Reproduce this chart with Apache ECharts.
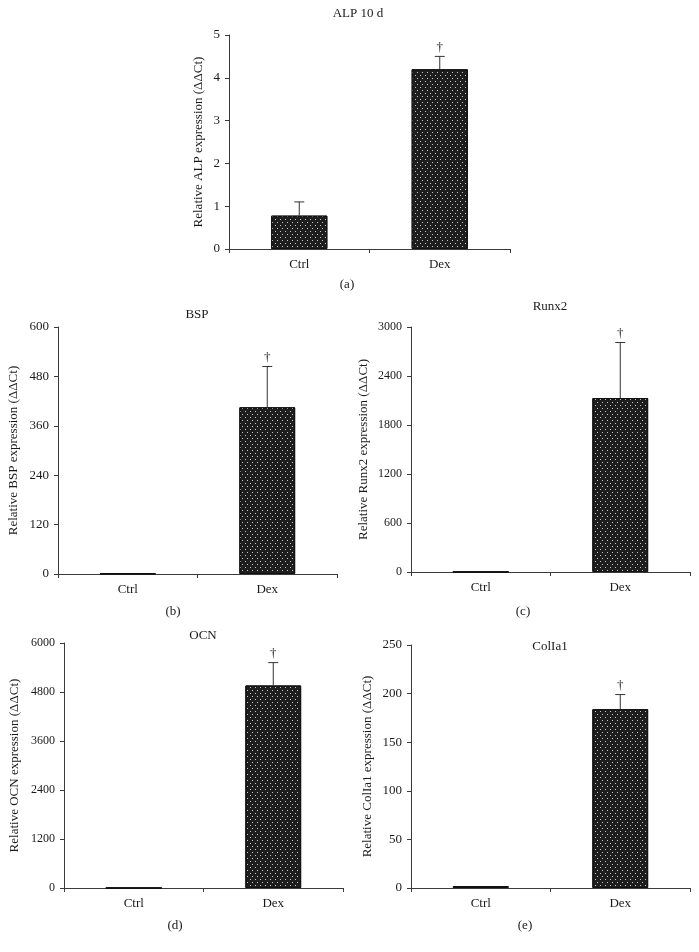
<!DOCTYPE html>
<html>
<head>
<meta charset="utf-8">
<script src="https://cdn.jsdelivr.net/npm/echarts@6/dist/echarts.min.js"></script>
<style>html,body{margin:0;padding:0;background:#fff}#c{width:699px;height:952px}</style>
</head>
<body>
<div id="c"></div>
<script>
const categories = ['Ctrl', 'Dex'];
const titles = ['ALP 10 d', 'BSP', 'Runx2', 'OCN', 'ColIa1'];
const panelTags = ['(a)', '(b)', '(c)', '(d)', '(e)'];
const yNames = [
  'Relative ALP expression (ΔΔCt)',
  'Relative BSP expression (ΔΔCt)',
  'Relative Runx2 expression (ΔΔCt)',
  'Relative OCN expression (ΔΔCt)',
  'Relative ColIa1 expression (ΔΔCt)'
];
const yMax = [5, 600, 3000, 6000, 250];
const yInterval = [1, 120, 600, 1200, 50];
const alpMean = [0.78, 4.2];
const alpSD = [0.32, 0.30];
const bspMean = [1, 405];
const bspSD = [0, 99];
const runx2Mean = [1, 2130];
const runx2SD = [0, 680];
const ocnMean = [1, 4960];
const ocnSD = [0, 560];
const colMean = [2, 184];
const colSD = [0, 15];
const dagger = [false, true];

const means = [alpMean, bspMean, runx2Mean, ocnMean, colMean];
const sds = [alpSD, bspSD, runx2SD, ocnSD, colSD];

// layout (pixels)
const grids = [
  {left: 229, top: 35, width: 281, height: 214},
  {left: 58, top: 327, width: 279, height: 247},
  {left: 411, top: 327, width: 279, height: 245},
  {left: 64, top: 643, width: 279, height: 245},
  {left: 411, top: 645, width: 279, height: 243}
];
const titlePos = [[358, 14], [197, 315], [550, 307], [203, 636], [550, 647]];
const tagPos = [[347, 285], [173, 612], [523, 612], [175, 926], [525, 926]];
const tickFont = [13, 13, 12, 12, 13];
const nameGaps = [24, 38, 41, 43, 37];

const FONT = '"Liberation Serif", "DejaVu Serif", serif';
const TXT = '#1a1a1a';
const AX = '#3a3a3a';

const xAxis = [], yAxis = [], series = [], graphic = [];
grids.forEach((g, i) => {
  xAxis.push({
    type: 'category', gridIndex: i, data: categories, boundaryGap: true,
    axisLine: {lineStyle: {color: AX, width: 1}},
    axisTick: {show: true, length: 4, lineStyle: {color: AX}},
    axisLabel: {color: TXT, fontFamily: FONT, fontSize: 13, margin: 9}
  });
  yAxis.push({
    type: 'value', gridIndex: i, min: 0, max: yMax[i], interval: yInterval[i],
    splitLine: {show: false},
    axisLine: {show: true, lineStyle: {color: AX, width: 1}},
    axisTick: {show: true, length: 4, lineStyle: {color: AX}},
    axisLabel: {color: TXT, fontFamily: FONT, fontSize: tickFont[i], margin: 9, formatter: v => String(v)},
    name: yNames[i], nameLocation: 'middle', nameRotate: 90, nameGap: nameGaps[i],
    nameTextStyle: {color: TXT, fontFamily: FONT, fontSize: 13}
  });
  series.push({
    type: 'bar', xAxisIndex: i, yAxisIndex: i, data: means[i], barWidth: '40%',
    itemStyle: {
      color: '#1e1e1e', borderColor: '#111', borderWidth: 1,
      decal: {
        symbol: 'rect', symbolSize: 1, color: 'rgba(255,255,255,0.75)',
        dashArrayX: [[1, 4], [0, 2, 1, 2]], dashArrayY: [1, 2], rotation: 0
      }
    },
    emphasis: {disabled: true},
    animation: false
  });
  const errData = categories.map((c, k) => [k, means[i][k], means[i][k] + sds[i][k], dagger[k] ? 1 : 0, sds[i][k]]);
  series.push({
    type: 'custom', xAxisIndex: i, yAxisIndex: i, data: errData, animation: false, z: 5,
    renderItem: function (params, api) {
      const x = api.value(0), m = api.value(1), t = api.value(2), d = api.value(3), s = api.value(4);
      const p0 = api.coord([x, m]);
      const p1 = api.coord([x, t]);
      const children = [];
      if (s > 0) {
        children.push({type: 'line', shape: {x1: p0[0], y1: p0[1], x2: p1[0], y2: p1[1]}, style: {stroke: '#333', lineWidth: 1}});
        children.push({type: 'line', shape: {x1: p1[0] - 5, y1: p1[1], x2: p1[0] + 5, y2: p1[1]}, style: {stroke: '#333', lineWidth: 1}});
      }
      if (d) {
        children.push({type: 'text', x: p1[0], y: p1[1] - 9, style: {text: '†', fill: TXT, font: '13px ' + FONT, align: 'center', verticalAlign: 'middle'}});
      }
      return {type: 'group', children: children};
    }
  });
  graphic.push({type: 'text', x: titlePos[i][0], y: titlePos[i][1], style: {text: titles[i], fill: TXT, font: '13px ' + FONT, align: 'center', verticalAlign: 'middle'}});
  graphic.push({type: 'text', x: tagPos[i][0], y: tagPos[i][1], style: {text: panelTags[i], fill: TXT, font: '13px ' + FONT, align: 'center', verticalAlign: 'middle'}});
});

const chart = echarts.init(document.getElementById('c'), null, {renderer: 'canvas'});
chart.setOption({
  animation: false,
  backgroundColor: '#fff',
  grid: grids.map(g => Object.assign({containLabel: false}, g)),
  xAxis: xAxis, yAxis: yAxis, series: series, graphic: graphic
});
</script>
</body>
</html>
